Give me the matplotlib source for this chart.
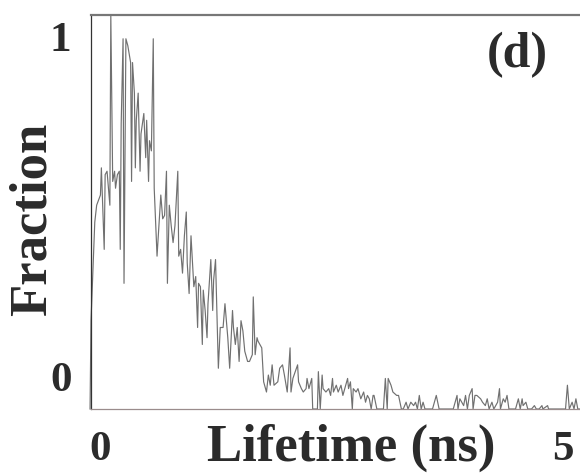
import matplotlib
matplotlib.use("Agg")
import numpy as np
import matplotlib.pyplot as plt
from matplotlib.transforms import ScaledTranslation

# lifetime distribution
# rise and main peak
life_peak = [-0.11, -0.10, -0.06, -0.04, 0.00, 0.01, 0.04, 0.05, 0.07, 0.10,
             0.11, 0.13, 0.15, 0.16, 0.18, 0.20, 0.21, 0.22, 0.24, 0.25,
             0.27, 0.29, 0.32, 0.33, 0.34, 0.36, 0.37, 0.38, 0.40, 0.42,
             0.43, 0.46, 0.48, 0.49, 0.51, 0.52, 0.54, 0.56, 0.57]
frac_peak = [-0.10, 0.16, 0.45, 0.50, 0.53, 0.61, 0.37, 0.59, 0.60, 0.50,
             1.06, 0.57, 0.60, 0.55, 0.59, 0.60, 0.37, 0.74, 0.99, 0.27,
             0.99, 0.97, 0.92, 0.57, 0.92, 0.83, 0.61, 0.75, 0.83, 0.60,
             0.71, 0.77, 0.64, 0.75, 0.57, 0.69, 0.66, 0.99, 0.55]

# decay part
life_decay = [0.60, 0.64, 0.66, 0.68, 0.70, 0.71, 0.73, 0.75, 0.77, 0.79,
              0.82, 0.83, 0.85, 0.87, 0.89, 0.91, 0.92, 0.94, 0.96, 0.99,
              1.01, 1.03, 1.04, 1.06, 1.08, 1.09, 1.11, 1.13, 1.14, 1.17,
              1.19, 1.20, 1.22, 1.24, 1.25, 1.27, 1.30, 1.32, 1.35, 1.37,
              1.40, 1.41, 1.43, 1.45, 1.47, 1.49, 1.51, 1.53, 1.56, 1.58,
              1.61, 1.62, 1.64, 1.66, 1.67, 1.71, 1.73, 1.76, 1.78, 1.80,
              1.82, 1.84, 1.88, 1.90, 1.93, 1.95, 1.98, 2.01, 2.02, 2.04,
              2.09, 2.10, 2.13, 2.15, 2.18, 2.19, 2.21, 2.24]
frac_decay = [0.35, 0.53, 0.46, 0.47, 0.60, 0.27, 0.50, 0.44, 0.39, 0.44,
              0.60, 0.35, 0.37, 0.30, 0.41, 0.48, 0.33, 0.24, 0.41, 0.26,
              0.29, 0.14, 0.27, 0.26, 0.09, 0.25, 0.19, 0.11, 0.21, 0.34,
              0.19, 0.28, 0.34, 0.13, 0.02, 0.14, 0.14, 0.21, 0.11, 0.02,
              0.19, 0.14, 0.09, 0.14, 0.04, 0.16, 0.13, 0.07, 0.04, 0.04,
              0.06, 0.23, 0.06, 0.11, 0.10, 0.08, -0.02, -0.05, 0.00, -0.03,
              0.03, -0.03, -0.02, 0.02, 0.03, 0.00, -0.05, 0.08, -0.05, -0.01,
              0.03, -0.02, -0.04, -0.05, -0.04, -0.01, -0.04, -0.01]

# long tail
life_tail = [2.25, 2.27, 2.30, 2.31, 2.33, 2.35, 2.36, 2.39, 2.42, 2.44,
             2.46, 2.47, 2.50, 2.52, 2.55, 2.57, 2.60, 2.62, 2.63, 2.65,
             2.67, 2.68, 2.71, 2.73, 2.76, 2.79, 2.81, 2.83, 2.85, 2.87,
             2.89, 2.90, 2.93, 2.96, 3.00, 3.02, 3.04, 3.05, 3.08, 3.10,
             3.14, 3.16, 3.19, 3.21, 3.24, 3.26, 3.29, 3.32, 3.34, 3.36,
             3.38, 3.40, 3.42, 3.44, 3.47, 3.52, 3.56, 3.59, 3.65, 3.71,
             3.74, 3.78, 3.79, 3.81, 3.85, 3.87, 3.89, 3.91, 3.94, 3.95,
             3.97, 3.99, 4.03, 4.05, 4.08, 4.10, 4.12, 4.15, 4.17, 4.21,
             4.23, 4.24, 4.27, 4.29, 4.31, 4.33, 4.38, 4.40, 4.43, 4.45,
             4.47, 4.48, 4.51, 4.53, 4.57, 4.60, 4.62, 4.65, 4.68, 4.69,
             4.74, 4.75, 4.80, 4.87, 4.93, 4.95, 4.97, 5.00, 5.02, 5.04,
             5.06, 5.14]
frac_tail = [-0.10, -0.10, -0.10, 0.01, -0.10, 0.00, -0.04, -0.05, -0.04, -0.06,
             -0.01, -0.05, -0.03, -0.05, -0.03, -0.06, -0.03, -0.01, -0.04, -0.02,
             -0.10, -0.04, -0.05, -0.04, -0.07, -0.05, -0.08, -0.06, -0.07, -0.10,
             -0.06, -0.06, -0.10, -0.10, -0.10, -0.01, -0.10, -0.01, -0.03, -0.05,
             -0.06, -0.06, -0.10, -0.10, -0.08, -0.10, -0.08, -0.09, -0.08, -0.10,
             -0.06, -0.10, -0.08, -0.10, -0.10, -0.10, -0.06, -0.10, -0.10, -0.10,
             -0.10, -0.06, -0.10, -0.07, -0.09, -0.06, -0.10, -0.06, -0.04, -0.10,
             -0.06, -0.06, -0.07, -0.08, -0.09, -0.07, -0.10, -0.08, -0.10, -0.08,
             -0.04, -0.10, -0.07, -0.08, -0.06, -0.10, -0.10, -0.10, -0.07, -0.10,
             -0.07, -0.09, -0.08, -0.10, -0.10, -0.09, -0.10, -0.10, -0.09, -0.10,
             -0.09, -0.10, -0.10, -0.10, -0.10, -0.03, -0.10, -0.08, -0.10, -0.07,
             -0.10, -0.10]

lifetime = np.array(life_peak + life_decay + life_tail)
fraction = np.array(frac_peak + frac_decay + frac_tail)

txt = "#2b2b2b"
serif = ["Liberation Serif", "DejaVu Serif"]

fig = plt.figure(figsize=(5.8, 4.77), dpi=100)
ax = fig.add_axes([91 / 580, 67 / 477, 500 / 580, 394 / 477])
ax.plot(lifetime, fraction, color="#707070", lw=0.85, clip_on=False)

ax.set_xlim(-0.1, 5.2)
ax.set_ylim(-0.1, 1.06)
ax.set_xticks([0, 5])
ax.set_yticks([0, 1])
ax.tick_params(length=0, labelsize=31, labelcolor=txt)
ax.tick_params(axis="x", pad=15)
ax.tick_params(axis="y", pad=14)
for lab in ax.get_xticklabels() + ax.get_yticklabels():
    lab.set_family(serif)
    lab.set_weight("bold")

# the right-hand "5" sits at the figure edge; nudge it inside
last = ax.get_xticklabels()[-1]
last.set_transform(last.get_transform()
                   + ScaledTranslation(-7 / 72, 0, fig.dpi_scale_trans))

ax.set_xlabel("Lifetime (ns)", family=serif, weight="bold", size=38, color=txt)
ax.xaxis.set_label_coords(0.52, -0.035)
ax.set_ylabel("Fraction", family=serif, weight="bold", size=38, color=txt)
ax.yaxis.set_label_coords(-0.068, 0.485)

ax.text(0.852, 0.90, "(d)", transform=ax.transAxes, family=serif,
        weight="bold", size=36, color=txt, ha="center", va="center")

ax.spines["left"].set_color("#333333")
ax.spines["left"].set_linewidth(0.9)
ax.spines["top"].set_color("#777777")
ax.spines["top"].set_linewidth(1.6)
ax.spines["bottom"].set_color("#9a8c8c")
ax.spines["bottom"].set_linewidth(0.9)
ax.spines["right"].set_visible(False)

fig.savefig("out.png", dpi=100)
